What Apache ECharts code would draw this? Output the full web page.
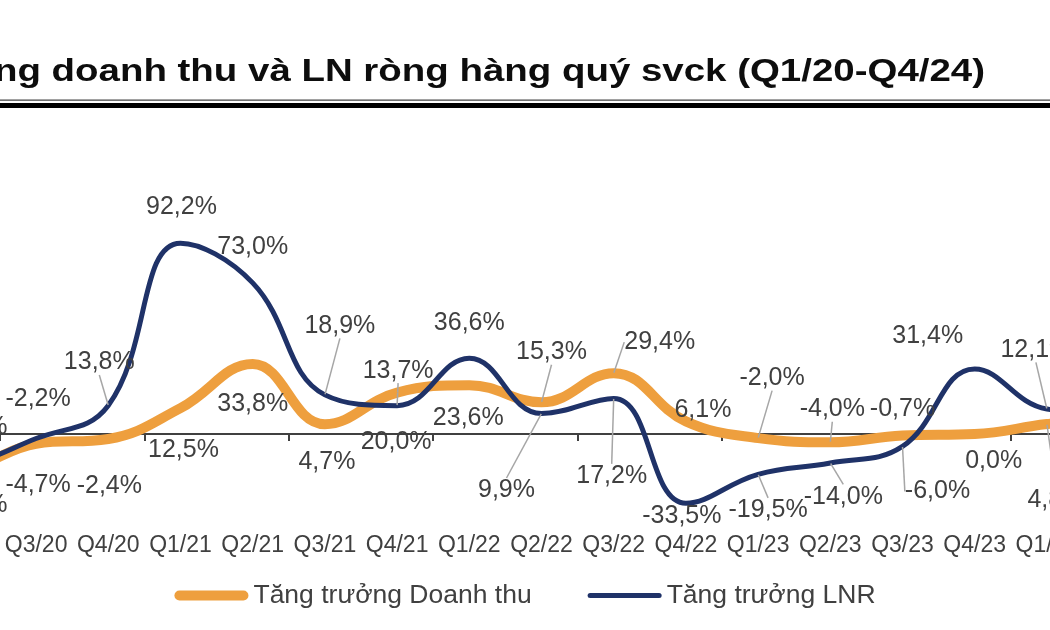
<!DOCTYPE html>
<html>
<head>
<meta charset="utf-8">
<script src="https://cdn.jsdelivr.net/npm/echarts@6/dist/echarts.min.js"></script>
<style>
html, body { margin: 0; padding: 0; background: #fff; }
#main { width: 1050px; height: 630px; }
</style>
</head>
<body>
<div id="main"></div>
<script>
const categories = ['Q1/20', 'Q2/20', 'Q3/20', 'Q4/20', 'Q1/21', 'Q2/21', 'Q3/21', 'Q4/21',
    'Q1/22', 'Q2/22', 'Q3/22', 'Q4/22', 'Q1/23', 'Q2/23', 'Q3/23', 'Q4/23',
    'Q1/24', 'Q2/24', 'Q3/24', 'Q4/24'];
const revenueGrowth = [2.0, -15.5, -4.7, -2.4, 12.5, 33.8, 4.7, 20.0, 23.6, 15.3, 29.4, 6.1,
    -2.0, -4.0, -0.7, 0.0, 4.8, 8.0, 10.0, 9.0];
const profitGrowth = [-5.0, -13.0, -2.2, 13.8, 92.2, 73.0, 18.9, 13.7, 36.6, 9.9, 17.2, -33.5,
    -19.5, -14.0, -6.0, 31.4, 12.1, 10.0, 20.0, 15.0];

// where each label sits relative to its point (px), and if it has a leader line
const revenueLabelPos = [[0, 40], [4, 39], [2, 41], [1, 47], [3, 42], [0, 40], [2, 38], [-1, 50],
    [-1, 33], [10, -50], [46, -31], [17, -11], [14, -60], [2, -33], [0, -26], [19, 27],
    [9, 76], [0, 40], [0, 40], [0, 40]];
const revenueLeader = [0, 0, 0, 0, 0, 0, 0, 0, 0, 1, 1, 0, 1, 1, 0, 0, 1, 0, 0, 0];
const profitLabelPos = [[0, -36], [4, -34], [2, -39], [-9, -43], [1, -36], [0, -36], [15, -69], [1, -35],
    [0, -35], [-35, 77], [-2, 78], [-4, 13], [10, 36], [13, 34], [35, 45], [-47, -33],
    [-11, -59], [0, -36], [0, -36], [0, -36]];
const profitLeader = [0, 0, 0, 1, 0, 0, 1, 1, 0, 1, 1, 0, 1, 1, 1, 0, 1, 0, 0, 0];

const FONT = '"Liberation Sans", Arial, sans-serif';
const fmt = v => v.toFixed(1).replace('.', ',') + '%';

const chart = echarts.init(document.getElementById('main'));

function makeSeries(name, values, color, width, pos, leader) {
    return {
        name: name,
        type: 'line',
        smooth: 0.42,
        symbol: 'circle',
        symbolSize: 1,
        showSymbol: true,
        itemStyle: { color: color },
        lineStyle: { color: color, width: width },
        emphasis: { disabled: true },
        data: values.map((v, i) => ({
            value: v,
            labelLine: { show: !!leader[i] }
        })),
        label: {
            show: true,
            position: 'inside',
            formatter: p => fmt(p.value),
            fontFamily: FONT,
            fontSize: 25,
            color: '#404040'
        },
        labelLine: {
            show: true,
            lineStyle: { color: '#a6a6a6', width: 1.5 }
        },
        labelLayout: p => ({ dx: pos[p.dataIndex][0], dy: pos[p.dataIndex][1] })
    };
}

const option = {
    animation: false,
    backgroundColor: '#fff',
    graphic: [
        {
            type: 'text',
            x: 985,
            y: 72,
            scaleX: 1.24,
            style: {
                x: 0, y: 0,
                text: 'Tăng trưởng doanh thu và LN ròng hàng quý svck (Q1/20-Q4/24)',
                font: 'bold 31px "Liberation Sans", Arial, sans-serif',
                fill: '#0d0d0d',
                align: 'right',
                verticalAlign: 'middle'
            }
        },
        { type: 'rect', shape: { x: 0, y: 99.5, width: 1050, height: 1.2 }, style: { fill: '#444' } },
        { type: 'rect', shape: { x: 0, y: 103, width: 1050, height: 5 }, style: { fill: '#000' } }
    ],
    grid: { left: -144.4, width: 1444, top: 227, height: 302.2, outerBoundsMode: 'none', containLabel: false },
    legend: {
        top: 577,
        left: 'center',
        itemWidth: 74,
        itemHeight: 10,
        itemGap: 56,
        textStyle: { fontFamily: FONT, fontSize: 26.5, color: '#404040' },
        data: [
            { name: 'Tăng trưởng Doanh thu', icon: 'path://M5,0 H69 A5,5 0 0 1 69,10 H5 A5,5 0 0 1 5,0 Z' },
            { name: 'Tăng trưởng LNR', icon: 'path://M2.5,0 H71.5 A2.5,2.5 0 0 1 71.5,5 H2.5 A2.5,2.5 0 0 1 2.5,0 Z' }
        ]
    },
    xAxis: [
        {
            type: 'category',
            data: categories,
            axisLine: { onZero: true, lineStyle: { color: '#404040', width: 2 } },
            axisTick: { show: true, interval: 1, length: 7, lineStyle: { color: '#404040', width: 2 } },
            axisLabel: { show: false }
        },
        {
            type: 'category',
            data: categories,
            position: 'bottom',
            axisLine: { show: false, onZero: false },
            axisTick: { show: false },
            axisLabel: { fontFamily: FONT, fontSize: 23, color: '#404040', margin: 5, interval: 0 }
        }
    ],
    yAxis: {
        type: 'value',
        min: -46,
        max: 100,
        show: false,
        splitLine: { show: false }
    },
    series: [
        makeSeries('Tăng trưởng Doanh thu', revenueGrowth, '#ee9f3e', 10, revenueLabelPos, revenueLeader),
        makeSeries('Tăng trưởng LNR', profitGrowth, '#1f3268', 5, profitLabelPos, profitLeader)
    ]
};

chart.setOption(option);
</script>
</body>
</html>
